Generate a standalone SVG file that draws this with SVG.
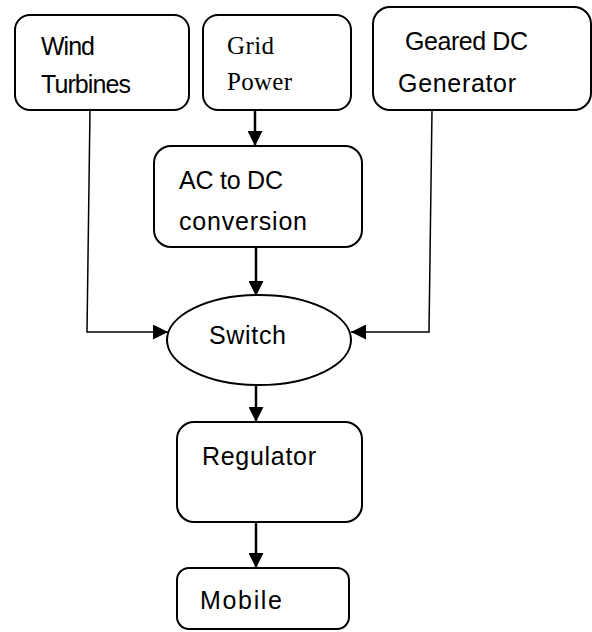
<svg xmlns="http://www.w3.org/2000/svg" width="592" height="632" viewBox="0 0 592 632">
<style>
.box{fill:#fff;stroke:#000;stroke-width:2}
.t{font-family:"Liberation Sans",Arial,sans-serif;font-size:25px;fill:#000}
.s{font-family:"Liberation Serif","Times New Roman",serif;font-size:25px;fill:#000}
.c{fill:none;stroke:#000}
.thin{stroke-width:1.5}
.thick{stroke-width:2.5}
</style>
<defs>
<marker id="ah" markerUnits="userSpaceOnUse" markerWidth="15" markerHeight="15" refX="15" refY="7.5" orient="auto">
<path d="M0,0 L15,7.5 L0,15 z" fill="#000"/>
</marker>
</defs>
<rect width="592" height="632" fill="#fff"/>
<g id="connectors">
<polyline class="c thin" points="90,110 87,332 168,332" marker-end="url(#ah)"/>
<polyline class="c thin" points="432,110 429,332 351,332" marker-end="url(#ah)"/>
<line class="c thick" x1="255" y1="110" x2="255" y2="146" marker-end="url(#ah)"/>
<line class="c thick" x1="256" y1="247" x2="256" y2="296" marker-end="url(#ah)"/>
<line class="c thick" x1="256" y1="385" x2="256" y2="422" marker-end="url(#ah)"/>
<line class="c thick" x1="256" y1="522" x2="256" y2="568" marker-end="url(#ah)"/>
</g>
<g id="wind">
<rect class="box" x="15" y="15" width="174" height="95" rx="15"/>
<text class="t" x="41" y="55" textLength="54">Wind</text>
<text class="t" x="41" y="93" textLength="90">Turbines</text>
</g>
<g id="grid">
<rect class="box" x="203" y="15" width="148" height="95" rx="15"/>
<text class="s" x="227" y="54" textLength="47">Grid</text>
<text class="s" x="227" y="90" textLength="65">Power</text>
</g>
<g id="geared">
<rect class="box" x="373" y="7" width="218" height="103" rx="17"/>
<text class="t" x="405" y="50" textLength="123">Geared DC</text>
<text class="t" x="398" y="92" textLength="118">Generator</text>
</g>
<g id="acdc">
<rect class="box" x="154" y="146" width="208" height="101" rx="17"/>
<text class="t" x="179" y="189" textLength="104">AC to DC</text>
<text class="t" x="179" y="230" textLength="128">conversion</text>
</g>
<g id="switch">
<ellipse class="box" cx="259" cy="340" rx="92" ry="45"/>
<text class="t" x="209" y="344" textLength="77">Switch</text>
</g>
<g id="regulator">
<rect class="box" x="177" y="422" width="185" height="100" rx="17"/>
<text class="t" x="202" y="465" textLength="114">Regulator</text>
</g>
<g id="mobile">
<rect class="box" x="177" y="568" width="172" height="61" rx="12"/>
<text class="t" x="200" y="609" textLength="82">Mobile</text>
</g>
</svg>
